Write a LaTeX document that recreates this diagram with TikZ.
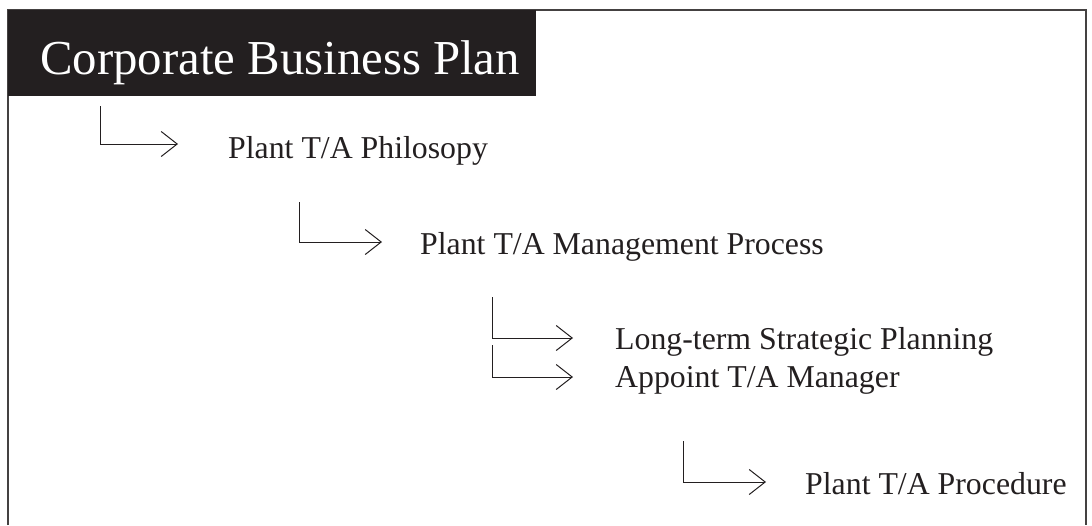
\documentclass[tikz,border=0pt]{standalone}
\usepackage{fontspec}
\setmainfont{Liberation Serif}
\usetikzlibrary{arrows.meta}
\definecolor{ink}{HTML}{231F20}
\tikzset{
  lbl/.style={anchor=base west, inner sep=0pt, text=ink, font=\fontsize{31.8}{38}\selectfont},
  conn/.style={draw=ink, line width=1pt, -{Straight Barb[length=16pt,width=25pt,line width=1pt]}},
  frameline/.style={draw=ink!85, line width=2.2pt}
}
\begin{document}
\begin{tikzpicture}[x=1pt,y=-1pt]
\useasboundingbox (0,0) rectangle (1092,525);
% frame (open at bottom)
\draw[frameline] (8,525) -- (8,10) -- (1086,10) -- (1086,525);
% title bar
\fill[ink] (8,10) rectangle (536,96);
\node[anchor=base west, inner sep=0pt, text=white, font=\fontsize{48.8}{56}\selectfont] (title) at (40,74) {Corporate Business Plan};
% labels
\node[lbl] (phil) at (228,158) {Plant T/A Philosopy};
\node[lbl] (mgmt) at (420,254) {Plant T/A Management Process};
\node[lbl] (long) at (615,349) {Long-term Strategic Planning};
\node[lbl] (appt) at (615,387) {Appoint T/A Manager};
\node[lbl] (proc) at (805,494) {Plant T/A Procedure};
% connector anchors
\coordinate (s1) at (100,106); \coordinate (e1) at (178,144);
\coordinate (s2) at (299,202); \coordinate (e2) at (382,242);
\coordinate (s3) at (492,297); \coordinate (e3) at (573,338);
\coordinate (s4) at (492,345); \coordinate (e4) at (573,377);
\coordinate (s5) at (683,441); \coordinate (e5) at (766,482);
\draw[conn] (s1) |- (e1);
\draw[conn] (s2) |- (e2);
\draw[conn] (s3) |- (e3);
\draw[conn] (s4) |- (e4);
\draw[conn] (s5) |- (e5);
\end{tikzpicture}
\end{document}
